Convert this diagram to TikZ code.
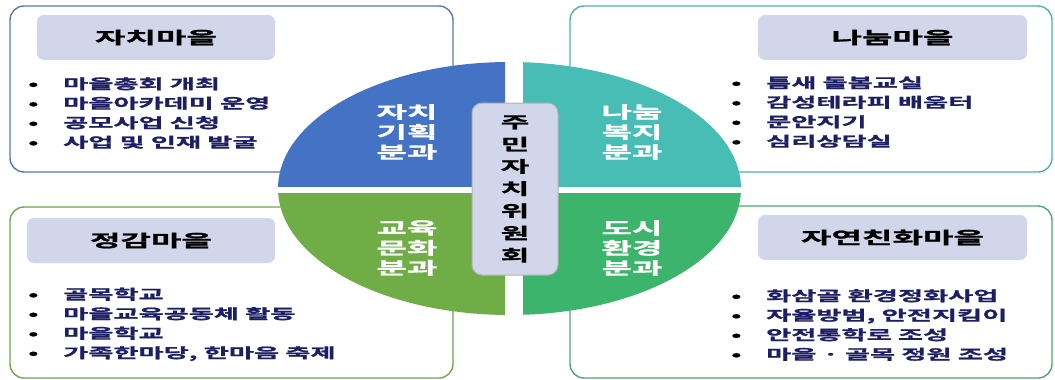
\documentclass[tikz,border=0pt]{standalone}
\usepackage{fontspec}
\newfontfamily\kr[FakeStretch=1.95, FakeBold=1.2]{Noto Sans CJK KR Bold}

\definecolor{jachiblue}{HTML}{4472C4}
\definecolor{nanumteal}{HTML}{47BDB5}
\definecolor{gyoyukgreen}{HTML}{70AD47}
\definecolor{dosigreen}{HTML}{3DB46B}
\definecolor{headfill}{HTML}{D2D6EA}
\definecolor{listnavy}{HTML}{1C1F66}
\newcommand{\itm}[1]{\makebox[35pt][l]{\textcolor{black}{•}}#1}

\begin{document}
\begin{tikzpicture}[x=1pt, y=-1pt,
    villagebox/.style={rounded corners=14pt, line width=1.4pt, fill=white},
    headbox/.style={fill=headfill, rounded corners=7pt, minimum height=45pt, inner sep=0pt,
      font=\kr\fontsize{17}{20}\selectfont},
    listtext/.style={align=left, inner sep=0pt, anchor=base west, text=listnavy,
      font=\kr\fontsize{14}{19.5}\selectfont},
    quadtext/.style={align=center, inner sep=0pt, text=white,
      font=\kr\fontsize{17}{20}\selectfont}]
  \useasboundingbox (0,0) rectangle (1055,380);
  % Village boxes
  \draw[villagebox, draw=jachiblue!60!gray] (10,6) rectangle (453,172);
  \draw[villagebox, draw=nanumteal!80!gray] (570,6) rectangle (1052,172);
  \draw[villagebox, draw=gyoyukgreen!80!gray] (10,207) rectangle (453,378);
  \draw[villagebox, draw=dosigreen!75!gray] (570,206) rectangle (1052,378);
  % Headers
  \node[headbox, minimum width=238pt] (jachi head) at (156,37.5) {자치마을};
  \node[headbox, minimum width=269pt] (nanum head) at (892.5,37.5) {나눔마을};
  \node[headbox, minimum width=248pt] (jeonggam head) at (151,240.5) {정감마을};
  \node[headbox, minimum width=269pt] (jayeon head) at (892.5,237.5) {자연친화마을};
  % Lists (placed at the baseline of their last line)
  \node[listtext] (jachi list) at (28,147.5) {\itm{마을총회 개최}\\\itm{마을아카데미 운영}\\\itm{공모사업 신청}\\\itm{사업 및 인재 발굴}};
  \node[listtext] (nanum list) at (731,146.5) {\itm{틈새 돌봄교실}\\\itm{감성테라피 배움터}\\\itm{문안지기}\\\itm{심리상담실}};
  \node[listtext] (jeonggam list) at (28,358) {\itm{골목학교}\\\itm{마을교육공동체 활동}\\\itm{마을학교}\\\itm{가족한마당, 한마음 축제}};
  \node[listtext] (jayeon list) at (731,359.5) {\itm{화삼골 환경정화사업}\\\itm{자율방범, 안전지킴이}\\\itm{안전통학로 조성}\\\itm{마을 · 골목 정원 조성}};
  % Four sections of the ellipse
  \begin{scope}
    \clip (270,50) rectangle (505,186);
    \fill[jachiblue] (509.5,188.5) ellipse [x radius=231.5pt, y radius=126.5pt];
  \end{scope}
  \begin{scope}
    \clip (523,50) rectangle (750,186);
    \fill[nanumteal] (509.5,188.5) ellipse [x radius=231.5pt, y radius=126.5pt];
  \end{scope}
  \begin{scope}
    \clip (270,193) rectangle (505,330);
    \fill[gyoyukgreen] (509.5,188.5) ellipse [x radius=231.5pt, y radius=126.5pt];
  \end{scope}
  \begin{scope}
    \clip (523,193) rectangle (750,330);
    \fill[dosigreen] (509.5,188.5) ellipse [x radius=231.5pt, y radius=126.5pt];
  \end{scope}
  \node[quadtext] (jachi part) at (407,132) {자치\\기획\\분과};
  \node[quadtext] (nanum part) at (632,132) {나눔\\복지\\분과};
  \node[quadtext] (gyoyuk part) at (407,248) {교육\\문화\\분과};
  \node[quadtext] (dosi part) at (632,248) {도시\\환경\\분과};
  % Committee in the middle
  \node[fill=headfill, draw=gray!60, line width=1pt, rounded corners=10pt,
    minimum width=86pt, minimum height=172pt, align=center, inner sep=0pt,
    font=\kr\fontsize{16}{22.2}\selectfont] (committee) at (515,189)
    {주\\민\\자\\치\\위\\원\\회};
\end{tikzpicture}
\end{document}
